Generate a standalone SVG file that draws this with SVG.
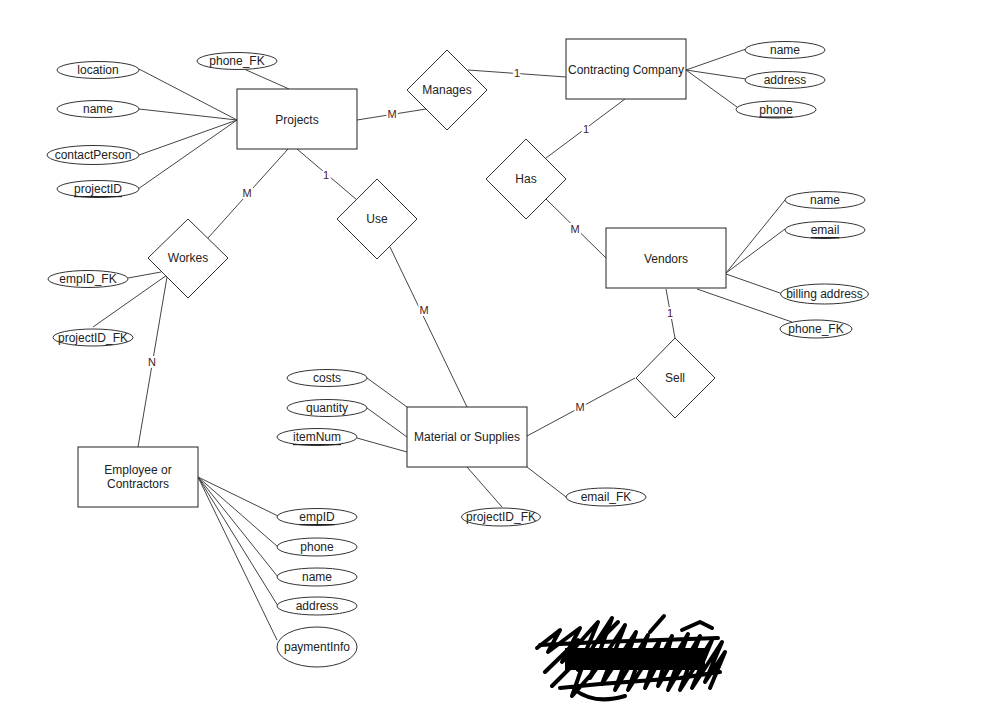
<svg xmlns="http://www.w3.org/2000/svg" width="1007" height="702" viewBox="0 0 1007 702">
<style>
  .ent rect { fill: #fff; stroke: #222; stroke-width: 1; }
  .rel polygon { fill: #fff; stroke: #333; stroke-width: 1; }
  .att ellipse { fill: #fff; stroke: #333; stroke-width: 1; }
  text { font-family: "Liberation Sans", Arial, sans-serif; font-size: 12px; fill: #222; text-anchor: middle; dominant-baseline: central; }
  .key { text-decoration: underline; }
  #connectors line { stroke: #444; stroke-width: 1; }
  .lbl { font-size: 11px; fill: #4a1a1a; stroke: #fff; stroke-width: 4px; paint-order: stroke; }
  .scr { fill: none; stroke: #000; stroke-width: 4; stroke-linecap: round; stroke-linejoin: round; }
</style>
<rect width="1007" height="702" fill="#fff"/>

<g id="connectors">
  <line x1="139" y1="69" x2="237" y2="120"/>
  <line x1="139" y1="109" x2="237" y2="120"/>
  <line x1="139" y1="155" x2="237" y2="120"/>
  <line x1="138" y1="189" x2="237" y2="120"/>
  <line x1="244" y1="69" x2="289" y2="89"/>
  <line x1="357" y1="120" x2="426" y2="109"/>
  <line x1="468" y1="70" x2="566" y2="77"/>
  <line x1="686" y1="70" x2="746" y2="49"/>
  <line x1="686" y1="70" x2="746" y2="79"/>
  <line x1="686" y1="70" x2="737" y2="107"/>
  <line x1="625" y1="99" x2="546" y2="158"/>
  <line x1="546" y1="199" x2="606" y2="258"/>
  <line x1="726" y1="273" x2="785" y2="200"/>
  <line x1="726" y1="273" x2="785" y2="229"/>
  <line x1="726" y1="274" x2="780" y2="293"/>
  <line x1="697" y1="289" x2="792" y2="322"/>
  <line x1="666" y1="289" x2="675" y2="338"/>
  <line x1="635" y1="378" x2="527" y2="436"/>
  <line x1="297" y1="149" x2="357" y2="200"/>
  <line x1="390" y1="247" x2="467" y2="407"/>
  <line x1="367" y1="378" x2="407" y2="407"/>
  <line x1="367" y1="408" x2="407" y2="437"/>
  <line x1="357" y1="438" x2="407" y2="452"/>
  <line x1="527" y1="467" x2="566" y2="497"/>
  <line x1="467" y1="467" x2="502" y2="507"/>
  <line x1="288" y1="149" x2="208" y2="238"/>
  <line x1="167" y1="277" x2="138" y2="447"/>
  <line x1="128" y1="278" x2="161" y2="272"/>
  <line x1="93" y1="327" x2="167" y2="275"/>
  <line x1="198" y1="477" x2="278" y2="516"/>
  <line x1="198" y1="477" x2="278" y2="547"/>
  <line x1="198" y1="477" x2="278" y2="577"/>
  <line x1="198" y1="477" x2="278" y2="606"/>
  <line x1="198" y1="477" x2="277" y2="640"/>
  <text class="lbl" x="392" y="114">M</text>
  <text class="lbl" x="517" y="73">1</text>
  <text class="lbl" x="586" y="129">1</text>
  <text class="lbl" x="575" y="229">M</text>
  <text class="lbl" x="670" y="313">1</text>
  <text class="lbl" x="580" y="407">M</text>
  <text class="lbl" x="326" y="175">1</text>
  <text class="lbl" x="424" y="310">M</text>
  <text class="lbl" x="247" y="193">M</text>
  <text class="lbl" x="152" y="362">N</text>
</g>

<g id="projects" class="ent"><rect x="237" y="89" width="120" height="60"/><text x="297" y="120">Projects</text></g>
<g id="contracting-company" class="ent"><rect x="566" y="39" width="120" height="60"/><text x="626" y="70">Contracting Company</text></g>
<g id="vendors" class="ent"><rect x="606" y="228" width="120" height="60"/><text x="666" y="259">Vendors</text></g>
<g id="material" class="ent"><rect x="407" y="407" width="120" height="60"/><text x="467" y="437">Material or Supplies</text></g>
<g id="employee" class="ent"><rect x="78" y="447" width="120" height="60"/><text x="138" y="470">Employee or</text><text x="138" y="484">Contractors</text></g>

<g id="manages" class="rel"><polygon points="447,50 487,90 447,130 407,90"/><text x="447" y="90">Manages</text></g>
<g id="has" class="rel"><polygon points="526,139 566,179 526,219 486,179"/><text x="526" y="179">Has</text></g>
<g id="sell" class="rel"><polygon points="675,338 715,378 675,418 636,378"/><text x="675" y="378">Sell</text></g>
<g id="use" class="rel"><polygon points="377,179 417,219 377,259 337,219"/><text x="377" y="219">Use</text></g>
<g id="workes" class="rel"><polygon points="188,219 228,258 188,298 148,258"/><text x="188" y="258">Workes</text></g>

<g id="p-location" class="att"><ellipse cx="98" cy="70" rx="41" ry="8.5"/><text x="98" y="70">location</text></g>
<g id="p-name" class="att"><ellipse cx="98" cy="109" rx="41" ry="8.5"/><text x="98" y="109">name</text></g>
<g id="p-contact" class="att"><ellipse cx="93" cy="155" rx="46" ry="9.5"/><text x="93" y="155">contactPerson</text></g>
<g id="p-projectid" class="att"><ellipse cx="98" cy="189" rx="41" ry="8.5"/><text class="key" x="98" y="189">projectID</text></g>
<g id="p-phonefk" class="att"><ellipse cx="237" cy="61" rx="40" ry="8.5"/><text x="237" y="61">phone_FK</text></g>

<g id="c-name" class="att"><ellipse cx="785" cy="50" rx="40" ry="8.5"/><text x="785" y="50">name</text></g>
<g id="c-address" class="att"><ellipse cx="785" cy="80" rx="40" ry="8.5"/><text x="785" y="80">address</text></g>
<g id="c-phone" class="att"><ellipse cx="776" cy="109.5" rx="40" ry="8.5"/><text class="key" x="776" y="109.5">phone</text></g>

<g id="v-name" class="att"><ellipse cx="825" cy="200" rx="40" ry="8.5"/><text x="825" y="200">name</text></g>
<g id="v-email" class="att"><ellipse cx="825" cy="230" rx="40" ry="8.5"/><text class="key" x="825" y="230">email</text></g>
<g id="v-billing" class="att"><ellipse cx="824.5" cy="294" rx="44" ry="10"/><text x="824.5" y="294">billing address</text></g>
<g id="v-phonefk" class="att"><ellipse cx="816" cy="329" rx="36" ry="9"/><text x="816" y="329">phone_FK</text></g>

<g id="m-costs" class="att"><ellipse cx="327" cy="378" rx="40" ry="8.5"/><text x="327" y="378">costs</text></g>
<g id="m-quantity" class="att"><ellipse cx="327" cy="408" rx="40" ry="8.5"/><text x="327" y="408">quantity</text></g>
<g id="m-itemnum" class="att"><ellipse cx="317" cy="437" rx="40" ry="8.5"/><text class="key" x="317" y="437">itemNum</text></g>
<g id="m-emailfk" class="att"><ellipse cx="606" cy="497" rx="40" ry="9"/><text x="606" y="497">email_FK</text></g>
<g id="m-projectidfk" class="att"><ellipse cx="501" cy="517" rx="39.5" ry="9"/><text x="501" y="517">projectID_FK</text></g>

<g id="w-empidfk" class="att"><ellipse cx="88" cy="279" rx="40" ry="8.5"/><text x="88" y="279">empID_FK</text></g>
<g id="w-projectidfk" class="att"><ellipse cx="93" cy="337.5" rx="40" ry="8.5"/><text x="93" y="337.5">projectID_FK</text></g>

<g id="e-empid" class="att"><ellipse cx="317" cy="517" rx="40" ry="8.5"/><text class="key" x="317" y="517">empID</text></g>
<g id="e-phone" class="att"><ellipse cx="317" cy="547" rx="40" ry="9"/><text x="317" y="547">phone</text></g>
<g id="e-name" class="att"><ellipse cx="317" cy="577" rx="40" ry="9"/><text x="317" y="577">name</text></g>
<g id="e-address" class="att"><ellipse cx="317" cy="606" rx="40" ry="9"/><text x="317" y="606">address</text></g>
<g id="e-payment" class="att"><ellipse cx="317" cy="647" rx="40" ry="20"/><text x="317" y="647">paymentInfo</text></g>

<g id="scribble">
  <rect x="565" y="648" width="140" height="22" fill="#000"/>
  <path class="scr" d="M537,648 L560,630 L548,652 L580,628 L562,662 L598,622 L578,670 L612,618 L590,678 L625,625 L602,684 L636,632 L615,690 L648,635 L628,690 L660,640 L645,688 L672,636 L658,686 L688,634 L668,690 L700,636 L680,690 L712,640 L692,688 L722,642 L705,682 L725,652 L710,688"/>
  <path class="scr" d="M545,672 L578,640 M552,686 L588,650 L572,696 L604,660 M540,645 L600,642 L660,640 L718,638 M560,688 L600,684 L640,681 L680,678 L720,672 M575,690 Q595,705 625,696"/>
  <path class="scr" d="M600,640 L618,622 M650,632 L664,616 M682,630 L700,622 L712,628"/>
</g>
</svg>
